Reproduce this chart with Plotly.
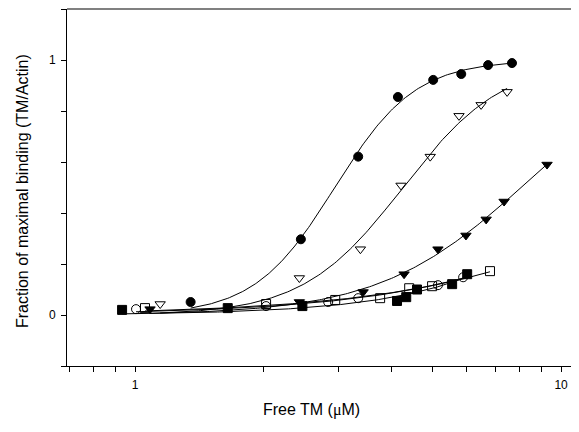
import numpy as np
import plotly.graph_objects as go

# ---- data ----
filled_circle_x = [1.35, 2.45, 3.34, 4.14, 5.01, 5.83, 6.74, 7.67]
filled_circle_y = [0.051, 0.297, 0.621, 0.855, 0.922, 0.945, 0.980, 0.988]

open_tri_x = [1.145, 2.43, 3.38, 4.21, 4.93, 5.76, 6.49, 7.47]
open_tri_y = [0.043, 0.145, 0.258, 0.508, 0.621, 0.781, 0.824, 0.875]

filled_tri_x = [1.084, 2.43, 3.43, 4.28, 5.14, 5.98, 6.67, 7.35, 9.27]
filled_tri_y = [0.023, 0.051, 0.090, 0.160, 0.258, 0.312, 0.375, 0.445, 0.590]

filled_sq_x = [0.932, 1.65, 2.47, 4.12, 4.33, 4.59, 5.55, 6.02]
filled_sq_y = [0.020, 0.027, 0.035, 0.055, 0.070, 0.100, 0.121, 0.160]

open_sq_x = [1.055, 2.03, 2.95, 3.76, 4.40, 4.98, 6.81]
open_sq_y = [0.027, 0.043, 0.059, 0.066, 0.105, 0.113, 0.172]

open_circle_x = [1.005, 2.03, 2.84, 3.34, 5.14, 5.89]
open_circle_y = [0.023, 0.035, 0.051, 0.066, 0.117, 0.148]

x_tick_vals = [0.7, 0.8, 0.9, 1, 2, 3, 4, 5, 6, 7, 8, 9, 10]
x_tick_text = ["", "", "", "1", "", "", "", "", "", "", "", "", "10"]
y_tick_vals = [-0.2, 0.0, 0.2, 0.4, 0.6, 0.8, 1.0, 1.2]
y_tick_text = ["", "0", "", "", "", "", "1", ""]

x_title = "Free TM (<span style='font-family:Liberation Serif'>μ</span>M)"
y_title = "Fraction of maximal binding (TM/Actin)"

series = [
    (filled_circle_x, filled_circle_y, "circle"),
    (open_tri_x, open_tri_y, "triangle-down-open"),
    (filled_tri_x, filled_tri_y, "triangle-down"),
    (filled_sq_x, filled_sq_y, "square"),
    (open_sq_x, open_sq_y, "square-open"),
    (open_circle_x, open_circle_y, "circle-open"),
]


def hill_fit(x, y):
    """Least-squares Hill fit y = A x^n / (K^n + x^n) by grid search."""
    x = np.asarray(x, float)
    y = np.asarray(y, float)
    best = None
    for K in np.logspace(np.log10(0.8), np.log10(60), 200):
        for n in np.linspace(0.5, 8.0, 76):
            f = x ** n / (K ** n + x ** n)
            A = float(f @ y / (f @ f))
            sse = float(np.sum((A * f - y) ** 2))
            if best is None or sse < best[0]:
                best = (sse, K, n, A)
    _, K, n, A = best
    return lambda t: A * t ** n / (K ** n + t ** n)


fig = go.Figure()
for xs, ys, sym in series:
    f = hill_fit(xs, ys)
    xx = np.logspace(np.log10(min(xs)), np.log10(max(xs)), 200)
    fig.add_trace(go.Scatter(x=xx, y=f(xx), mode="lines",
                             line=dict(color="black", width=1),
                             hoverinfo="skip", showlegend=False))
for xs, ys, sym in series:
    fig.add_trace(go.Scatter(x=xs, y=ys, mode="markers",
                             marker=dict(symbol=sym, size=9, color="black",
                                         line=dict(color="black", width=1)),
                             showlegend=False))

# The page body has an 8px default margin; the figure is sized to fill the
# remaining 571x424 area of the 579x432 window.
W, H = 571, 424
ML, MR, MT, MB = 59, 2, 1, 66
PW, PH = W - ML - MR, H - MT - MB

font = "Liberation Sans, Arial, sans-serif"
fig.update_layout(
    width=W, height=H,
    margin=dict(l=ML, r=MR, t=MT, b=MB, autoexpand=False),
    paper_bgcolor="white", plot_bgcolor="white",
    font=dict(family=font, size=12, color="black"),
    xaxis=dict(type="log", range=[np.log10(0.692), np.log10(10.9)],
               tickmode="array", tickvals=x_tick_vals, ticktext=x_tick_text,
               ticks="outside", ticklen=5, tickwidth=1, tickcolor="black",
               ticklabelstandoff=3,
               showline=True, linecolor="black", linewidth=1,
               showgrid=False, zeroline=False, automargin=False,
               tickfont=dict(size=12)),
    yaxis=dict(range=[-0.2, 1.2],
               tickmode="array", tickvals=y_tick_vals, ticktext=y_tick_text,
               ticks="outside", ticklen=5, tickwidth=1, tickcolor="black",
               ticklabelstandoff=3,
               showline=True, linecolor="black", linewidth=1,
               showgrid=False, zeroline=False, automargin=False,
               tickfont=dict(size=12)),
    shapes=[
        dict(type="line", xref="paper", yref="paper", x0=0, x1=1, y0=1, y1=1,
             line=dict(color="#808080", width=2)),
        dict(type="line", xref="paper", yref="paper", x0=1, x1=1, y0=0, y1=1,
             line=dict(color="#808080", width=2)),
    ],
    annotations=[
        dict(text=x_title, xref="paper", yref="paper", x=0.48, y=-44 / PH,
             xanchor="center", yanchor="middle", showarrow=False,
             font=dict(size=16)),
        dict(text=y_title, xref="paper", yref="paper", x=-45 / PW, y=0.49,
             xanchor="center", yanchor="middle", showarrow=False,
             textangle=-90, font=dict(size=16)),
    ],
)

fig.write_html("out.html")
